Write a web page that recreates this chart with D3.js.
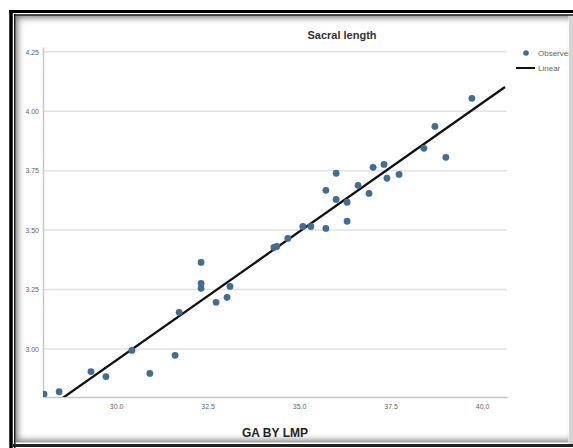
<!DOCTYPE html>
<html><head><meta charset="utf-8">
<script src="https://cdn.jsdelivr.net/npm/d3@7"></script>
<style>html,body{margin:0;padding:0;background:#fff;}svg{display:block;}</style>
</head><body>
<svg id="c" width="573" height="448"></svg>
<script>
// ---- data ----
const gaByLmp = [28.03,28.44,29.31,29.72,30.43,30.92,31.61,31.72,32.32,32.32,32.32,32.73,33.03,33.11,34.31,34.39,34.69,35.10,35.32,35.73,35.73,36.01,36.01,36.31,36.31,36.61,36.91,37.02,37.32,37.40,37.73,38.41,38.71,39.01,39.72];
const sacralLength = [2.81,2.82,2.905,2.884,2.994,2.897,2.973,3.154,3.364,3.276,3.255,3.196,3.217,3.263,3.427,3.431,3.465,3.515,3.515,3.507,3.667,3.739,3.629,3.617,3.537,3.688,3.654,3.764,3.776,3.718,3.734,3.844,3.936,3.806,4.054];
const fitIntercept = -0.294;
const fitSlope = 0.1082;
const xTicks = [30.0, 32.5, 35.0, 37.5, 40.0];
const yTicks = [3.00, 3.25, 3.50, 3.75, 4.00, 4.25];
const legendLabels = ["Observed", "Linear"];

const svg = d3.select("#c");
const W = 573, H = 448;
const ptColor = "#3f6d93";
const font = "Arial, 'Liberation Sans', sans-serif";

// frame
const defs = svg.append("defs");
const f = defs.append("filter").attr("id","blur").attr("x","-10%").attr("y","-10%").attr("width","120%").attr("height","120%");
f.append("feGaussianBlur").attr("stdDeviation", 3);
defs.append("clipPath").attr("id","inner").append("rect").attr("x",15.5).attr("y",15.5).attr("width",553).attr("height",427);
defs.append("clipPath").attr("id","plot").append("rect").attr("x",43).attr("y",46).attr("width",465).attr("height",351);

svg.append("rect").attr("width",W).attr("height",H).attr("fill","#fff");
const inner = svg.append("g").attr("clip-path","url(#inner)");
inner.append("rect").attr("x",13).attr("y",13).attr("width",565).attr("height",432).attr("fill","none")
  .attr("stroke","#808080").attr("stroke-width",10).attr("filter","url(#blur)");
// outer black border (top, left, bottom), right side grey
svg.append("line").attr("x1",9).attr("x2",573).attr("y1",11.5).attr("y2",11.5).attr("stroke","#000").attr("stroke-width",3);
svg.append("line").attr("x1",14).attr("x2",573).attr("y1",15).attr("y2",15).attr("stroke","#111").attr("stroke-width",1.5);
svg.append("line").attr("x1",11).attr("x2",11).attr("y1",10).attr("y2",448).attr("stroke","#000").attr("stroke-width",3.5);
svg.append("line").attr("x1",14.8).attr("x2",14.8).attr("y1",14).attr("y2",448).attr("stroke","#111").attr("stroke-width",1.5);
svg.append("line").attr("x1",13).attr("x2",573).attr("y1",445.5).attr("y2",445.5).attr("stroke","#222").attr("stroke-width",3);
svg.append("rect").attr("x",569).attr("y",16).attr("width",4).attr("height",428).attr("fill","#d4d4d4");

// scales
const x = d3.scaleLinear().domain([28.0, 40.68]).range([43, 507]);
const y = d3.scaleLinear().domain([2.80, 4.27]).range([396.5, 47]);

const g = inner.append("g");
// gridlines
g.selectAll(".grid").data(yTicks).join("line")
  .attr("x1",43).attr("x2",507).attr("y1",d=>y(d)).attr("y2",d=>y(d))
  .attr("stroke","#e2e2e2").attr("stroke-width",1.5);

// axes
const yAxis = g.append("g").attr("transform","translate(43,0)")
  .call(d3.axisLeft(y).tickValues(yTicks).tickFormat(d3.format(".2f")).tickSize(0).tickPadding(4));
yAxis.select(".domain").attr("stroke","#c8c8c8").attr("stroke-width",1.5);
yAxis.selectAll("text").attr("fill","#666").style("font-family",font).style("font-size","7px");

const xAxis = g.append("g").attr("transform","translate(0,397)")
  .call(d3.axisBottom(x).tickValues(xTicks).tickFormat(d3.format(".1f")).tickSize(0).tickPadding(7));
xAxis.select(".domain").attr("stroke","#c8c8c8").attr("stroke-width",1.5);
xAxis.selectAll("text").attr("fill","#666").style("font-family",font).style("font-size","7px");

// fit line and points, clipped to plot area
const plot = g.append("g").attr("clip-path","url(#plot)");
const xd = x.domain();
plot.append("line")
  .attr("x1",x(xd[0])).attr("y1",y(fitIntercept+fitSlope*xd[0]))
  .attr("x2",x(xd[1])-2).attr("y2",y(fitIntercept+fitSlope*(xd[1]-2/36.6)))
  .attr("stroke","#111").attr("stroke-width",2.3);

plot.selectAll(".pt").data(gaByLmp).join("circle")
  .attr("cx",d=>x(d)).attr("cy",(d,i)=>y(sacralLength[i])).attr("r",3.4)
  .attr("fill",ptColor);

// titles
g.append("text").attr("x",342).attr("y",39).attr("text-anchor","middle")
  .style("font-family",font).style("font-size","11px").style("font-weight","bold")
  .attr("fill","#333").text("Sacral length");
g.append("text").attr("x",275).attr("y",437).attr("text-anchor","middle")
  .style("font-family",font).style("font-size","12px").style("font-weight","bold")
  .attr("fill","#222").text("GA BY LMP");

// legend
const lg = g.append("g");
lg.append("circle").attr("cx",526).attr("cy",53).attr("r",2.8).attr("fill",ptColor);
lg.append("line").attr("x1",516).attr("x2",535).attr("y1",68).attr("y2",68).attr("stroke","#111").attr("stroke-width",2.2);
lg.selectAll(".lt").data(legendLabels).join("text")
  .attr("x",538).attr("y",(d,i)=>56+i*14.5)
  .style("font-family",font).style("font-size","8px")
  .attr("fill","#666").text(d=>d);
</script>
</body></html>
